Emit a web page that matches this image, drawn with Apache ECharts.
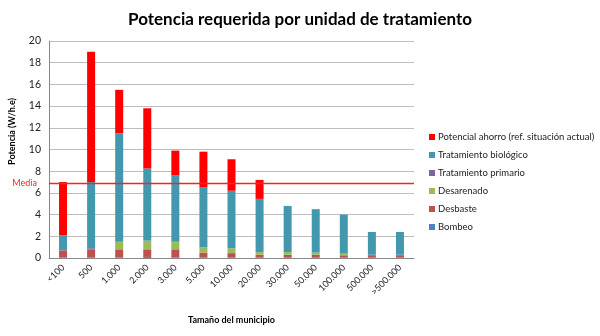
<!DOCTYPE html>
<html><head><meta charset="utf-8">
<script src="https://cdn.jsdelivr.net/npm/echarts@6/dist/echarts.min.js"></script>
<style>html,body{margin:0;padding:0;background:#fff}#c{width:600px;height:336px}</style>
</head><body><div id="c"></div>
<script>
const categories = ['<100','500','1.000','2.000','3.000','5.000','10.000','20.000','30.000','50.000','100.000','500.000','>500.000'];
const bombeo      = [0.05,0.05,0.05,0.1,0.05,0.05,0.05,0.05,0.05,0.05,0.05,0.05,0.05];
const desbaste    = [0.65,0.75,0.75,0.7,0.75,0.45,0.4,0.25,0.25,0.25,0.2,0.15,0.15];
const desarenado  = [0,0,0.7,0.8,0.7,0.5,0.45,0.25,0.25,0.2,0.15,0,0];
const primario    = [0,0.1,0,0,0,0,0,0,0,0,0,0.1,0.1];
const biologico   = [1.4,6.1,10.0,6.65,6.1,5.5,5.3,4.9,4.25,4.0,3.6,2.1,2.1];
const ahorro      = [4.9,12.0,4.0,5.55,2.3,3.3,2.9,1.75,0,0,0,0,0];
const mediaValue  = 6.9;
const yTicks = {min:0, max:20, interval:2};

const names = ['Bombeo','Desbaste','Desarenado','Tratamiento primario','Tratamiento biológico','Potencial ahorro (ref. situación actual)'];
const colors = ['#4F81BD','#C0504D','#9BBB59','#8064A2','#4198AF','#FF0000'];
const datas = [bombeo,desbaste,desarenado,primario,biologico,ahorro];
const F = 'Lato';

const series = datas.map((d,i)=>({
  name:names[i], type:'bar', stack:'s', data:d, barWidth:8,
  itemStyle:{color:colors[i]},
}));
series.push({
  name:'Media', type:'line', data:[], color:'#FF0000', z:10,
  markLine:{
    symbol:'none', silent:true,
    lineStyle:{color:'#FF2020', width:1.3, type:'solid'},
    label:{position:'start', formatter:'Media', color:'#FF2020', fontSize:9, fontFamily:F, distance:12},
    data:[{yAxis:mediaValue}]
  }
});

const chart = echarts.init(document.getElementById('c'));
chart.setOption({
  animation:false,
  title:{text:'Potencia requerida por unidad de tratamiento', left:'center', top:6,
    textStyle:{fontSize:17, fontWeight:'bold', color:'#000', fontFamily:F}},
  grid:{left:48, right:186, top:41, bottom:78},
  legend:{orient:'vertical', left:424, top:127, itemWidth:6, itemHeight:6, itemGap:8,
    data:names.slice().reverse(), icon:'rect',
    textStyle:{fontSize:9.5, color:'#222', fontFamily:F, padding:[0,0,0,-2]}},
  xAxis:{type:'category', data:categories,
    name:'Tamaño del municipio', nameLocation:'middle', nameGap:58,
    nameTextStyle:{fontSize:9, fontWeight:'bold', color:'#000', fontFamily:F},
    axisLine:{lineStyle:{color:'#888'}}, axisTick:{show:false},
    axisLabel:{rotate:45, fontSize:9, color:'#222', fontFamily:F, margin:8}},
  yAxis:{type:'value', min:yTicks.min, max:yTicks.max, interval:yTicks.interval,
    name:'Potencia (W/h.e)', nameLocation:'middle', nameGap:32,
    nameTextStyle:{fontSize:9, fontWeight:'bold', color:'#000', fontFamily:F, padding:[0,0,0,36]},
    axisLine:{show:true, lineStyle:{color:'#888'}}, axisTick:{show:false},
    axisLabel:{fontSize:10.5, color:'#222', fontFamily:F, margin:8},
    splitLine:{lineStyle:{color:'#BDBDBD', width:1}}},
  series:series
});
</script></body></html>
